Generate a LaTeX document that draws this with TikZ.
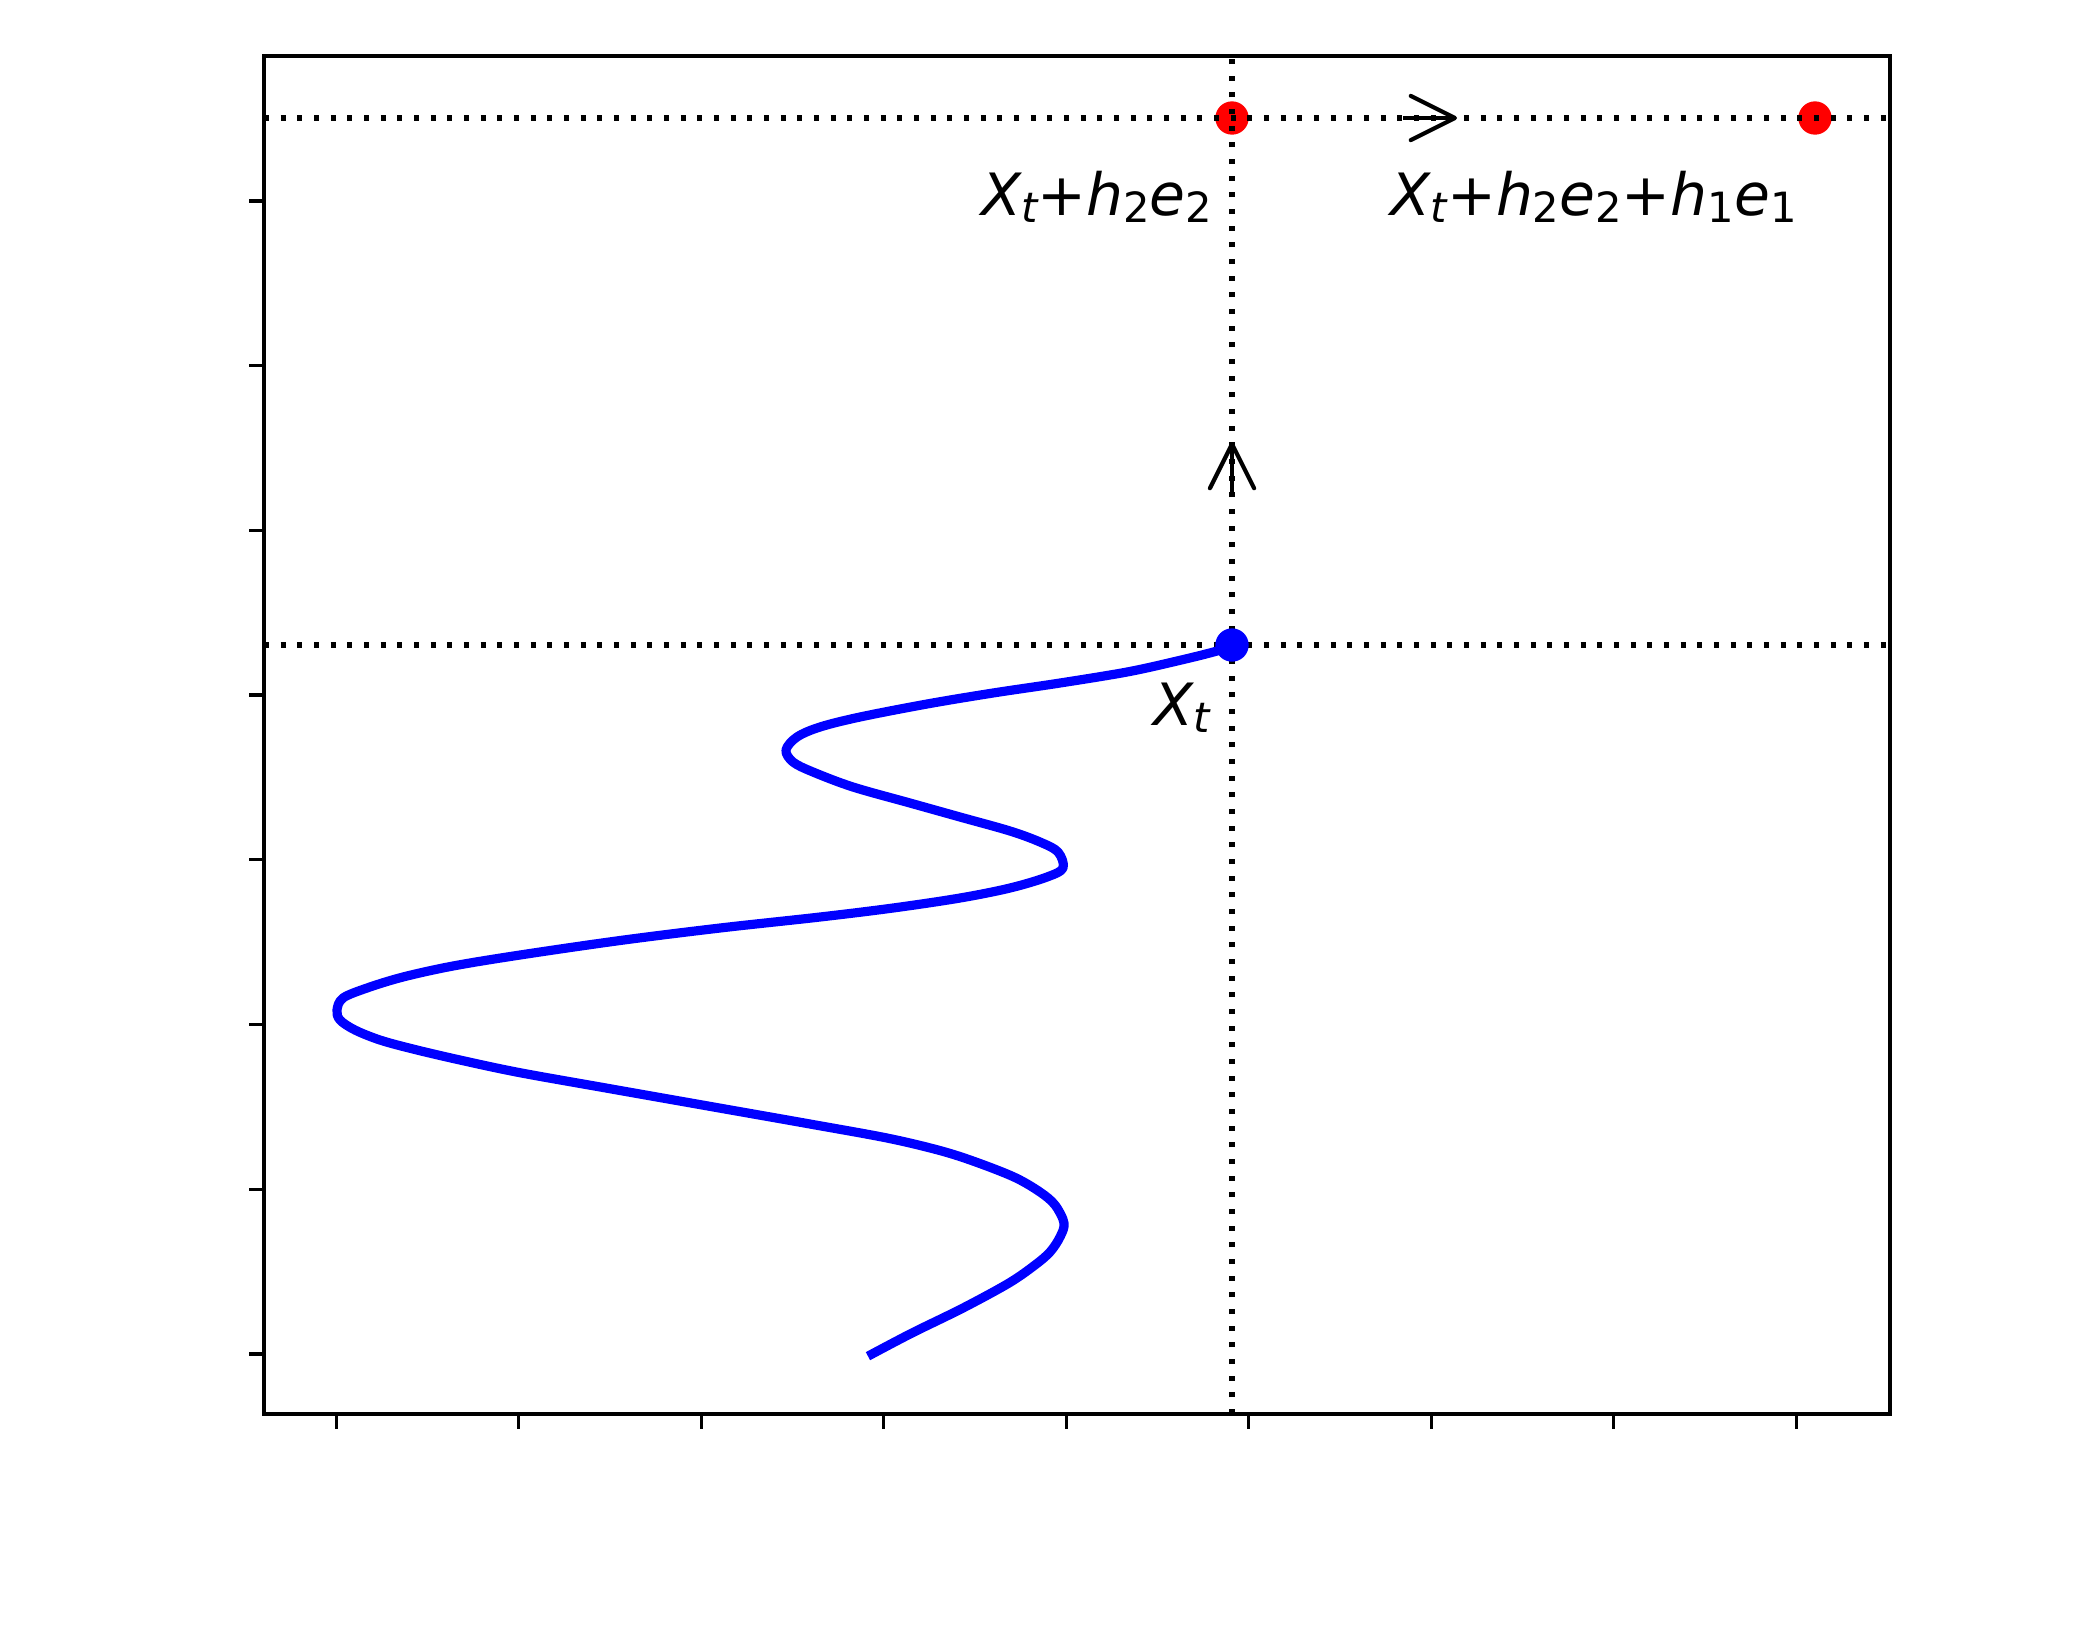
\documentclass[tikz,border=0pt]{standalone}
\usepackage{fontspec}
\setmainfont{DejaVu Sans}
\usetikzlibrary{arrows.meta}
\definecolor{pureblue}{RGB}{0,0,255}
\definecolor{purered}{RGB}{255,0,0}
\newcommand\lsub[1]{\raisebox{-1.9pt}{\fontsize{10pt}{10pt}\selectfont #1}}
\newcommand\lplus{\upshape+\itshape}
\begin{document}
\begin{tikzpicture}[x=0.24pt,y=-0.24pt,
  spine/.style={line width=0.8pt},
  tickmark/.style={line width=0.8pt},
  dotline/.style={line width=1.3pt, dash pattern=on 1.2pt off 2.8pt},
  trajectory/.style={line width=2.2pt, draw=pureblue, line join=round, line cap=rect},
  reddot/.style={circle, fill=purered, inner sep=0pt, minimum size=8pt},
  bluedot/.style={circle, fill=pureblue, inner sep=0pt, minimum size=8pt},
  mathlab/.style={inner sep=0pt, font=\fontsize{14pt}{15pt}\selectfont},
  steparrow/.style={line width=1pt, -{Straight Barb[length=10.6pt,width=10.6pt,round]}}
]
\fill[white] (0,0) rectangle (2100,1640);
\useasboundingbox (0,0) rectangle (2100,1640);

% red points
\node[reddot] (p2) at (1232,118) {};
\node[reddot] (p3) at (1815,118) {};

% dotted guide lines
\coordinate (topL) at (264,118);
\coordinate (topR) at (1890,118);
\coordinate (midL) at (264,645);
\coordinate (midR) at (1890,645);
\coordinate (vB) at (1232,1414);
\coordinate (vT) at (1232,56);
\draw[dotline] (topL) -- (topR);
\draw[dotline] (midL) -- (midR);
\draw[dotline] (vB) -- (vT);

% trajectory
\draw[trajectory] plot[smooth, tension=0.55] coordinates {
(872,1354) (912,1333) (963,1308) (1009,1283) (1035,1265) (1050,1252) (1060,1237) (1064,1223)
(1055,1205) (1040,1192) (1014,1177) (973,1161) (938,1150) (887,1138) (810,1124) (708,1106)
(606,1088) (519,1072.5) (460,1060) (413,1049) (380,1040) (355,1030) (340,1020) (337,1010)
(343,998) (367,988) (403,977) (453,966) (520,955) (620,940.5) (720,928) (820,917) (893,908)
(960,898) (1010,888) (1047,877) (1063,868) (1058,852) (1040,842) (1010,831) (960,817)
(910,803) (853,787) (813,772) (793,762) (786,750) (797,737) (820,727) (860,717) (927,704)
(993,693) (1060,683) (1127,672) (1177,661) (1217,651) (1232,645)};
\node[bluedot] (xt) at (1232,645) {};

% step arrows
\coordinate (upS) at (1232,492);
\coordinate (upE) at (1232,442);
\coordinate (rtS) at (1403,118);
\coordinate (rtE) at (1457,118);
\draw[steparrow] (upS) -- (upE);
\draw[steparrow] (rtS) -- (rtE);

% axes frame and ticks
\draw[spine] (264,56) rectangle (1890,1414);
\foreach \tx in {336.3,518.8,701.3,883.8,1066.3,1248.8,1431.3,1613.8,1796.3}
  \draw[tickmark] (\tx,1414) -- (\tx,1428.6);
\foreach \ty in {1354,1189.3,1024.5,859.8,695.1,530.4,365.6,200.9}
  \draw[tickmark] (264,\ty) -- (249.4,\ty);

% labels
\node[mathlab, anchor=base east] (lab1) at (1213,215)
  {\itshape X\lsub{t}\lplus h\lsub{\upshape 2}e\lsub{\upshape 2}};
\node[mathlab, anchor=base west] (lab2) at (1390,215)
  {\itshape X\lsub{t}\lplus h\lsub{\upshape 2}e\lsub{\upshape 2}\lplus h\lsub{\upshape 1}e\lsub{\upshape 1}};
\node[mathlab, anchor=base west] (lab3) at (1153,725)
  {\itshape X\lsub{t}};
\end{tikzpicture}
\end{document}
